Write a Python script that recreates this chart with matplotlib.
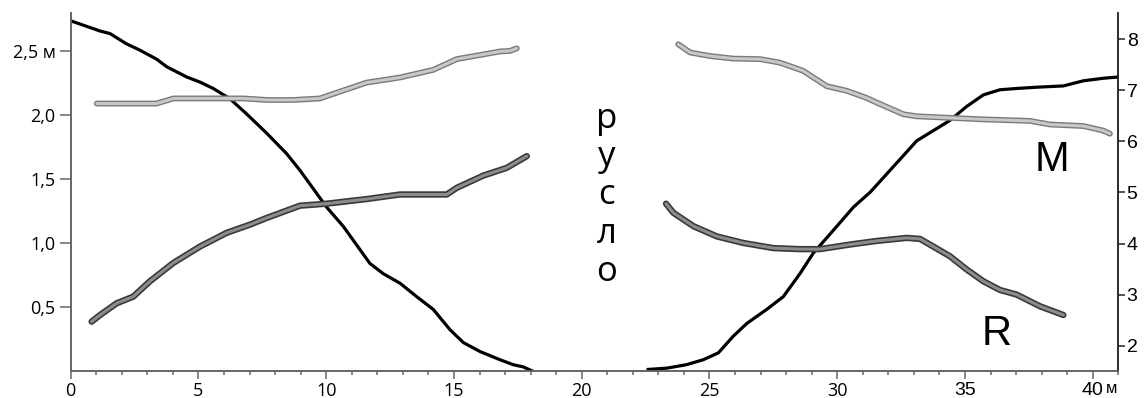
import numpy as np
import matplotlib.pyplot as plt
from matplotlib.ticker import MultipleLocator, FixedLocator

# профиль русла, левая ось (м)
prof_left_x = [0, 1.15, 1.54, 2.18, 2.71, 3.36, 3.76, 4.54, 5.06, 5.58, 6.23, 6.89, 7.67, 8.45, 8.97,
               10.02, 10.67, 11.71, 12.23, 12.89, 13.54, 14.19, 14.85, 15.37, 16.02, 16.8, 17.32, 17.71, 18.04]
prof_left_y = [2.74, 2.66, 2.64, 2.56, 2.51, 2.44, 2.38, 2.30, 2.26, 2.21, 2.13, 2.01, 1.86, 1.70, 1.57,
               1.28, 1.13, 0.84, 0.76, 0.685, 0.58, 0.48, 0.32, 0.22, 0.15, 0.086, 0.047, 0.03, 0.0]
prof_right_x = [22.6, 23.33, 24.1, 24.76, 25.35, 25.93, 26.46, 27.24, 27.89, 28.54, 29.06, 29.85, 30.63,
                31.3, 32.07, 33.11, 33.76, 34.41, 35.07, 35.72, 36.37, 37.02, 37.81, 38.85, 39.63, 40.41, 41.0]
prof_right_y = [0.01, 0.02, 0.047, 0.086, 0.14, 0.27, 0.37, 0.48, 0.58, 0.76, 0.92, 1.10, 1.28,
                1.40, 1.57, 1.80, 1.88, 1.96, 2.07, 2.16, 2.20, 2.21, 2.22, 2.23, 2.27, 2.29, 2.30]

# M, правая ось
m_left_x = [1.02, 3.36, 3.89, 4.02, 6.76, 7.67, 8.71, 9.76, 10.28, 11.58, 12.89, 14.19, 15.11, 16.02, 16.8, 17.19, 17.46]
m_left_y = [6.74, 6.74, 6.82, 6.84, 6.84, 6.81, 6.81, 6.84, 6.93, 7.15, 7.25, 7.40, 7.61, 7.69, 7.76, 7.77, 7.82]
m_right_x = [23.78, 24.24, 25.02, 25.93, 26.98, 27.76, 28.67, 29.59, 30.37, 31.15, 31.54, 32.59, 33.11,
             34.41, 35.72, 37.54, 38.33, 39.63, 40.41, 40.67]
m_right_y = [7.90, 7.74, 7.67, 7.62, 7.61, 7.54, 7.38, 7.08, 6.99, 6.85, 6.76, 6.53, 6.49,
             6.46, 6.43, 6.40, 6.33, 6.30, 6.21, 6.15]

# R, правая ось
r_left_x = [0.82, 1.15, 1.80, 2.45, 3.10, 4.02, 5.06, 6.11, 7.02, 7.67, 8.97, 10.02, 11.58, 12.89, 14.72,
            15.11, 16.15, 17.06, 17.85]
r_left_y = [2.47, 2.60, 2.83, 2.96, 3.26, 3.62, 3.94, 4.21, 4.37, 4.50, 4.74, 4.78, 4.87, 4.96, 4.96,
            5.09, 5.33, 5.48, 5.71]
r_right_x = [23.3, 23.59, 24.37, 25.28, 26.33, 27.5, 28.54, 29.33, 30.5, 31.54, 32.72, 33.24, 33.76,
             34.41, 35.07, 35.72, 36.37, 37.02, 37.94, 38.85]
r_right_y = [4.78, 4.60, 4.34, 4.14, 4.01, 3.91, 3.89, 3.89, 3.98, 4.05, 4.11, 4.09, 3.94,
             3.75, 3.49, 3.26, 3.09, 3.00, 2.77, 2.60]

x_ticks = [0, 5, 10, 15, 20, 25, 30, 35, 40]
left_ticks = [0.5, 1.0, 1.5, 2.0, 2.5]
left_labels = ["0,5", "1,0", "1,5", "2,0", "2,5 м"]
right_ticks = [2, 3, 4, 5, 6, 7, 8]

fig = plt.figure(figsize=(11.47, 3.98), dpi=100)
ax = fig.add_axes([0.0616, 0.0686, 0.9134, 0.8984])
ax2 = ax.twinx()

ax.plot(prof_left_x, prof_left_y, color='black', lw=2.3, zorder=5)
ax.plot(prof_right_x, prof_right_y, color='black', lw=2.3, zorder=5)

for xs, ys in [(m_left_x, m_left_y), (m_right_x, m_right_y)]:
    ax2.plot(xs, ys, color='#7a7a7a', lw=4.2, solid_capstyle='round')
    ax2.plot(xs, ys, color='#c8c8c8', lw=2.2, solid_capstyle='round')
for xs, ys in [(r_left_x, r_left_y), (r_right_x, r_right_y)]:
    ax2.plot(xs, ys, color='#3a3a3a', lw=4.6, solid_capstyle='round')
    ax2.plot(xs, ys, color='#8c8c8c', lw=2.2, solid_capstyle='round')

ax.set_xlim(0, 41)
ax.set_ylim(0, 2.8)
ax2.set_ylim(1.51, 8.51)

ax.xaxis.set_major_locator(FixedLocator(x_ticks))
ax.xaxis.set_minor_locator(MultipleLocator(1))
ax.set_xticklabels([str(t) for t in x_ticks])
ax.set_yticks(left_ticks)
ax.set_yticklabels(left_labels)
ax2.set_yticks(right_ticks)
ax2.set_yticklabels([str(t) for t in right_ticks])

for s in ['top']:
    ax.spines[s].set_visible(False)
    ax2.spines[s].set_visible(False)
for a in (ax, ax2):
    for s in ['left', 'bottom', 'right']:
        a.spines[s].set_color('#666666')
        a.spines[s].set_linewidth(1.2)
ax2.spines['right'].set_color('#222222')

ax.tick_params(axis='x', which='major', length=6, width=1.1, color='#666666', labelsize=13, pad=2)
ax.tick_params(axis='x', which='minor', length=3, width=1.1, color='#666666')
ax.tick_params(axis='y', length=8, width=1.1, color='#666666', labelsize=13, pad=3)
ax2.tick_params(axis='y', length=5, width=1.1, color='#222222', labelsize=14, pad=1)

for lab in ax.get_xticklabels() + ax.get_yticklabels():
    lab.set_fontfamily('Open Sans')
for lab in ax2.get_yticklabels():
    lab.set_fontfamily('Liberation Sans')
for lab in ax.get_xticklabels()[-2:]:
    lab.set_fontfamily('Liberation Sans')
    lab.set_fontsize(14)

ax.text(0.9937, -0.05, 'м', transform=ax.transAxes, ha='center', va='center',
        fontsize=12, family='Liberation Sans')
ax.text(0.5115, 0.49, 'р\nу\nс\nл\nо', transform=ax.transAxes, ha='center', va='center',
        fontsize=25, family='Open Sans', linespacing=1.17)
ax.text(0.937, 0.59, 'M', transform=ax.transAxes, ha='center', va='center',
        fontsize=30, family='Liberation Sans')
ax.text(0.884, 0.103, 'R', transform=ax.transAxes, ha='center', va='center',
        fontsize=30, family='Liberation Sans')

fig.savefig('out.png', dpi=100)
